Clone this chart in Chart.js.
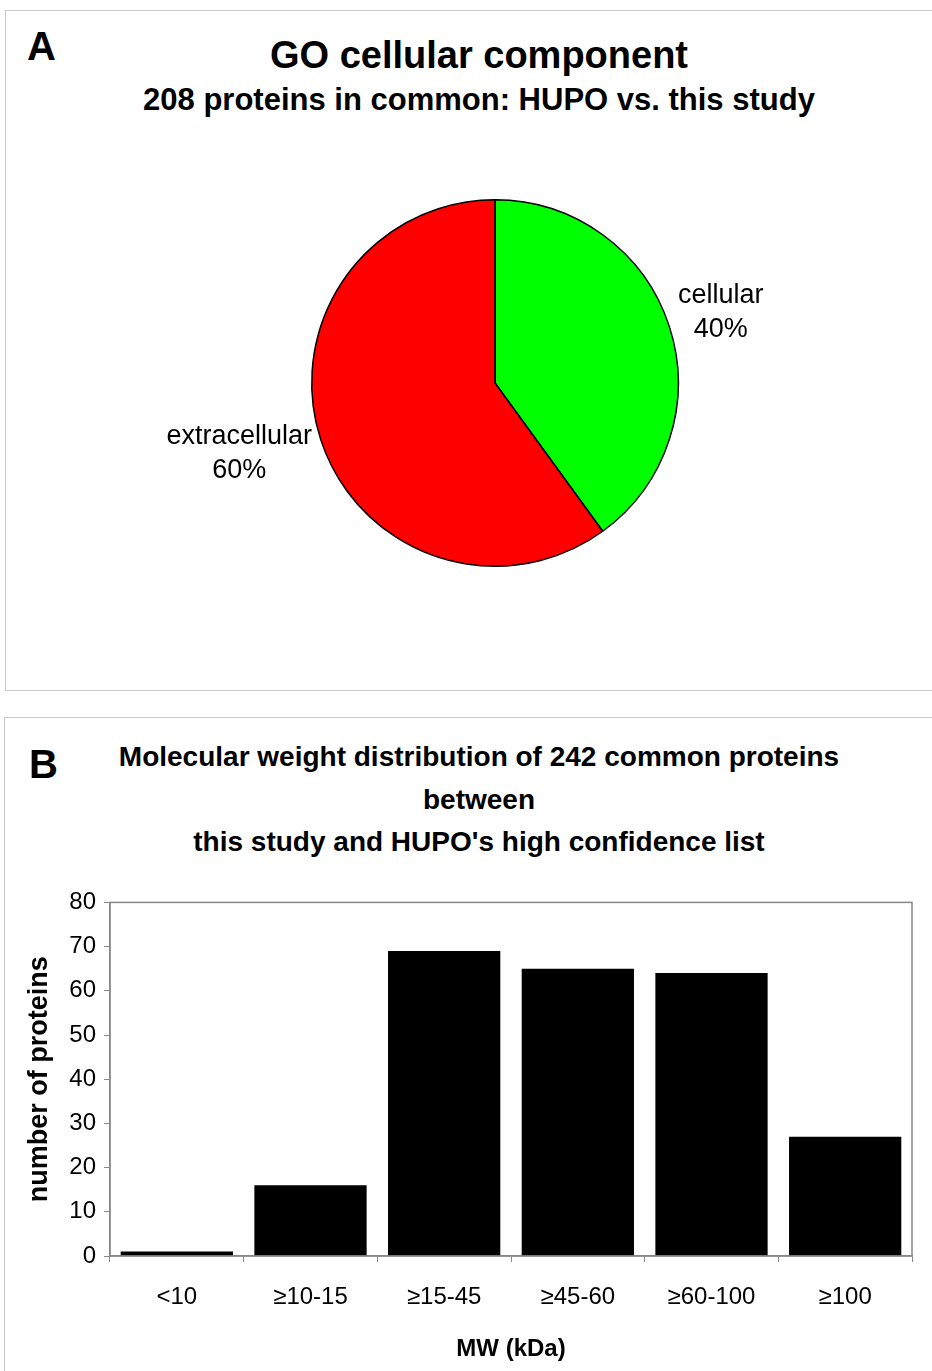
<!DOCTYPE html>
<html lang="en">
<head>
  <meta charset="UTF-8">
  <title>GO cellular component / MW distribution</title>
  <script src="https://cdn.jsdelivr.net/npm/chart.js"></script>
  <style>
    body { margin: 0; padding: 0; background: #fff; font-family: "Liberation Sans", Arial, sans-serif; overflow: hidden; width: 932px; height: 1371px; position: relative; }
    .panel { position: absolute; border: 1px solid #c8c8c8; box-sizing: border-box; }
    .letter { position: absolute; font-weight: bold; font-size: 40px; line-height: 40px; color: #000; }
    .ttl { position: absolute; left: 0; width: 958px; text-align: center; font-weight: bold; color: #000; white-space: nowrap; }
    .wrap { position: absolute; }
  </style>
</head>
<body>
  <div class="panel" style="left:5px; top:10px; width:960px; height:681px;"></div>
  <div class="panel" style="left:4px; top:717px; width:960px; height:700px;"></div>

  <div class="letter" style="left:27px; top:26px;">A</div>
  <div class="ttl" style="top:33px; font-size:38px; line-height:44px;">GO cellular component</div>
  <div class="ttl" style="top:82px; font-size:31px; line-height:36px;">208 proteins in common: HUPO vs. this study</div>

  <div class="letter" style="left:29px; top:744px;">B</div>
  <div class="ttl" style="top:736px; font-size:28px; line-height:42.5px;">
    Molecular weight distribution of 242 common proteins<br>between<br>this study and HUPO's high confidence list
  </div>

  <div class="wrap" style="left:6px; top:11px; width:926px; height:678px;"><canvas id="pieChart"></canvas></div>
  <div class="wrap" style="left:10px; top:880px; width:912px; height:491px;"><canvas id="barChart"></canvas></div>

  <script>
    // panel A data
    var pieLabels = ['cellular', 'extracellular'];
    var pieValues = [40, 60];
    var pieColors = ['#00ff00', '#ff0000'];

    // panel B data
    var mwCategories = ['<10', '\u226510-15', '\u226515-45', '\u226545-60', '\u226560-100', '\u2265100'];
    var mwCounts = [1, 16, 69, 65, 64, 27];
    var yTicksMax = 80;
    var yTickStep = 10;

    var FONT = '"Liberation Sans", Arial, sans-serif';

    // slice labels outside the pie, name + percent
    var sliceLabels = {
      id: 'sliceLabels',
      afterDatasetsDraw: function(chart) {
        var ctx = chart.ctx;
        var meta = chart.getDatasetMeta(0);
        var data = chart.data.datasets[0].data;
        var total = data.reduce(function(a, b) { return a + b; }, 0);
        ctx.save();
        ctx.font = '27px ' + FONT;
        ctx.fillStyle = '#000';
        ctx.textAlign = 'center';
        ctx.textBaseline = 'middle';
        meta.data.forEach(function(arc, i) {
          var mid = (arc.startAngle + arc.endAngle) / 2;
          var lines = [chart.data.labels[i], Math.round(data[i] / total * 100) + '%'];
          var w = Math.max(ctx.measureText(lines[0]).width, ctx.measureText(lines[1]).width);
          var px = arc.x + Math.cos(mid) * arc.outerRadius * 1.05 + (Math.cos(mid) >= 0 ? w / 2 : -w / 2);
          var py = arc.y + Math.sin(mid) * arc.outerRadius * 1.25;
          ctx.fillText(lines[0], px, py - 17);
          ctx.fillText(lines[1], px, py + 17);
        });
        ctx.restore();
      }
    };

    new Chart(document.getElementById('pieChart'), {
      type: 'pie',
      data: {
        labels: pieLabels,
        datasets: [{ data: pieValues, backgroundColor: pieColors, borderColor: '#000', borderWidth: 1.5 }]
      },
      options: {
        responsive: true,
        maintainAspectRatio: false,
        animation: false,
        layout: { padding: { left: 305, right: 253, top: 188, bottom: 122 } },
        plugins: { legend: { display: false }, tooltip: { enabled: false } }
      },
      plugins: [sliceLabels]
    });

    // grey frame round the plot area
    var plotFrame = {
      id: 'plotFrame',
      afterDraw: function(chart) {
        var a = chart.chartArea, ctx = chart.ctx;
        ctx.save();
        ctx.strokeStyle = '#888';
        ctx.lineWidth = 1.5;
        ctx.strokeRect(a.left, a.top, a.right - a.left, a.bottom - a.top);
        ctx.restore();
      }
    };

    new Chart(document.getElementById('barChart'), {
      type: 'bar',
      data: {
        labels: mwCategories,
        datasets: [{ data: mwCounts, backgroundColor: '#000', borderWidth: 0, categoryPercentage: 1, barPercentage: 0.84 }]
      },
      options: {
        responsive: true,
        maintainAspectRatio: false,
        animation: false,
        layout: { padding: { left: 0, right: 10, top: 22, bottom: 0 } },
        plugins: { legend: { display: false }, tooltip: { enabled: false } },
        scales: {
          x: {
            afterFit: function(s) { s.height = 115; },
            border: { color: '#888', width: 1.5 },
            grid: { drawOnChartArea: false, color: '#888', tickLength: 6 },
            ticks: { color: '#000', font: { family: FONT, size: 24 }, padding: 21, maxRotation: 0 },
            title: { display: true, text: 'MW (kDa)', color: '#000', font: { family: FONT, size: 24, weight: 'bold' }, padding: { top: 0, bottom: 7 } }
          },
          y: {
            min: 0,
            max: yTicksMax,
            afterFit: function(s) { s.width = 100; },
            border: { color: '#888', width: 1.5 },
            grid: { drawOnChartArea: false, color: '#888', tickLength: 6 },
            ticks: { stepSize: yTickStep, color: '#000', font: { family: FONT, size: 24 }, padding: 8 },
            title: { display: true, text: 'number of proteins', color: '#000', font: { family: FONT, size: 27, weight: 'bold' }, padding: { top: 13, bottom: 0 } }
          }
        }
      },
      plugins: [plotFrame]
    });
  </script>
</body>
</html>
